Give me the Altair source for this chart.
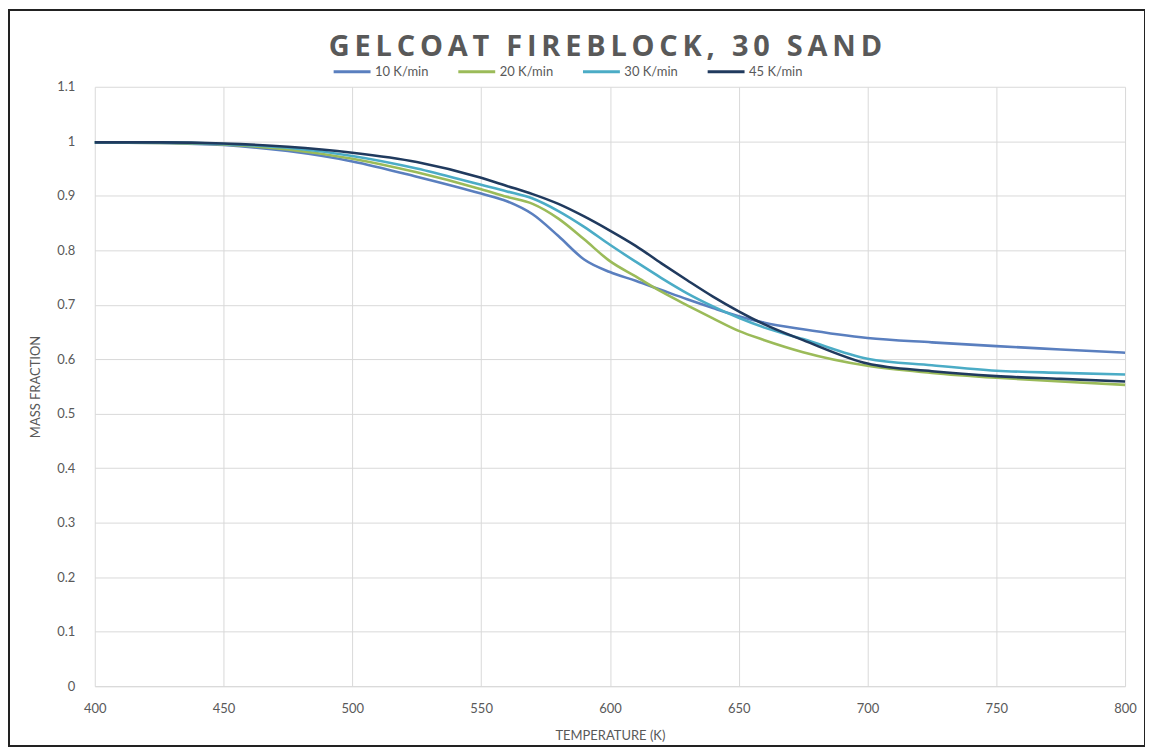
import altair as alt
import pandas as pd

temps = [400, 425, 450, 475, 500, 525, 550, 560, 570, 580, 590, 600, 610, 620,
         630, 640, 650, 660, 675, 700, 725, 750, 775, 800]

rate_10 = [0.998, 0.997, 0.993, 0.982, 0.963, 0.935, 0.904, 0.890, 0.866, 0.826,
           0.783, 0.760, 0.744, 0.727, 0.710, 0.694, 0.679, 0.667, 0.655, 0.639,
           0.631, 0.624, 0.618, 0.612]
rate_20 = [0.998, 0.997, 0.994, 0.985, 0.968, 0.943, 0.912, 0.898, 0.885, 0.858,
           0.820, 0.780, 0.752, 0.724, 0.699, 0.675, 0.652, 0.635, 0.613, 0.588,
           0.575, 0.566, 0.559, 0.553]
rate_30 = [0.998, 0.998, 0.995, 0.988, 0.973, 0.950, 0.920, 0.908, 0.895, 0.872,
           0.843, 0.810, 0.779, 0.749, 0.721, 0.697, 0.676, 0.658, 0.637, 0.601,
           0.589, 0.579, 0.575, 0.572]
rate_45 = [0.998, 0.998, 0.996, 0.990, 0.979, 0.962, 0.933, 0.918, 0.903, 0.885,
           0.862, 0.836, 0.808, 0.776, 0.745, 0.715, 0.688, 0.664, 0.635, 0.592,
           0.578, 0.569, 0.564, 0.559]

series_names = ["10 K/min", "20 K/min", "30 K/min", "45 K/min"]
series_colors = ["#5a7fbf", "#9bbb59", "#4bacc6", "#203a5e"]
series_values = [rate_10, rate_20, rate_30, rate_45]

rows = []
for name, vals in zip(series_names, series_values):
    for t, v in zip(temps, vals):
        rows.append({"Temperature": t, "Mass": v, "Series": name})
df = pd.DataFrame(rows)

x_ticks = list(range(400, 801, 50))
y_ticks = [round(i * 0.1, 1) for i in range(12)]

title_text = "GELCOAT FIREBLOCK, 30 SAND"
spaced_title = "\u2009".join(list(title_text))

lines = alt.Chart(df).mark_line(strokeWidth=2.6, interpolate="monotone").encode(
    x=alt.X("Temperature:Q", scale=alt.Scale(domain=[400, 800], nice=False),
            axis=alt.Axis(values=x_ticks, title="TEMPERATURE (K)", grid=True,
                          ticks=False, domain=True, domainColor="#d9d9d9",
                          labelFlush=False, labelPadding=16, titlePadding=14)),
    y=alt.Y("Mass:Q", scale=alt.Scale(domain=[0, 1.1], nice=False),
            axis=alt.Axis(values=y_ticks, format="~g", title="MASS FRACTION",
                          grid=True, ticks=False, domain=False,
                          labelPadding=20, titlePadding=14)),
    color=alt.Color("Series:N",
                    scale=alt.Scale(domain=series_names, range=series_colors),
                    legend=alt.Legend(orient="none", direction="horizontal",
                                      legendX=238, legendY=-35, title=None,
                                      symbolType="stroke", symbolSize=1369,
                                      symbolStrokeWidth=3, labelOffset=3,
                                      columnPadding=23, labelFontSize=13,
                                      labelColor="#595959", labelFont="Lato")),
)

frame = alt.Chart(pd.DataFrame({"a": [0]})).mark_rect(
    fill=None, stroke="#222222", strokeWidth=2
).encode(x=alt.value(-86), x2=alt.value(1053), y=alt.value(-77), y2=alt.value(661))

title_mark = alt.Chart(pd.DataFrame({"a": [0]})).mark_text(
    text=spaced_title, font="Open Sans", fontSize=29, fontWeight="bold",
    color="#595959", align="center", baseline="alphabetic"
).encode(x=alt.value(512), y=alt.value(-31))

chart = alt.layer(frame, title_mark, lines).properties(
    width=1033, height=601,
    autosize=alt.AutoSizeParams(type="none"),
    padding={"left": 87, "top": 78, "right": 20, "bottom": 61},
).configure_axis(
    gridColor="#d9d9d9", labelColor="#595959", titleColor="#595959",
    labelFont="Lato", titleFont="Lato", labelFontSize=13, titleFontSize=13,
    titleFontWeight="normal",
).configure_view(stroke=None).configure_legend(gridAlign="all")

chart.save("out.html", embed_options={"renderer": "svg", "actions": False})
